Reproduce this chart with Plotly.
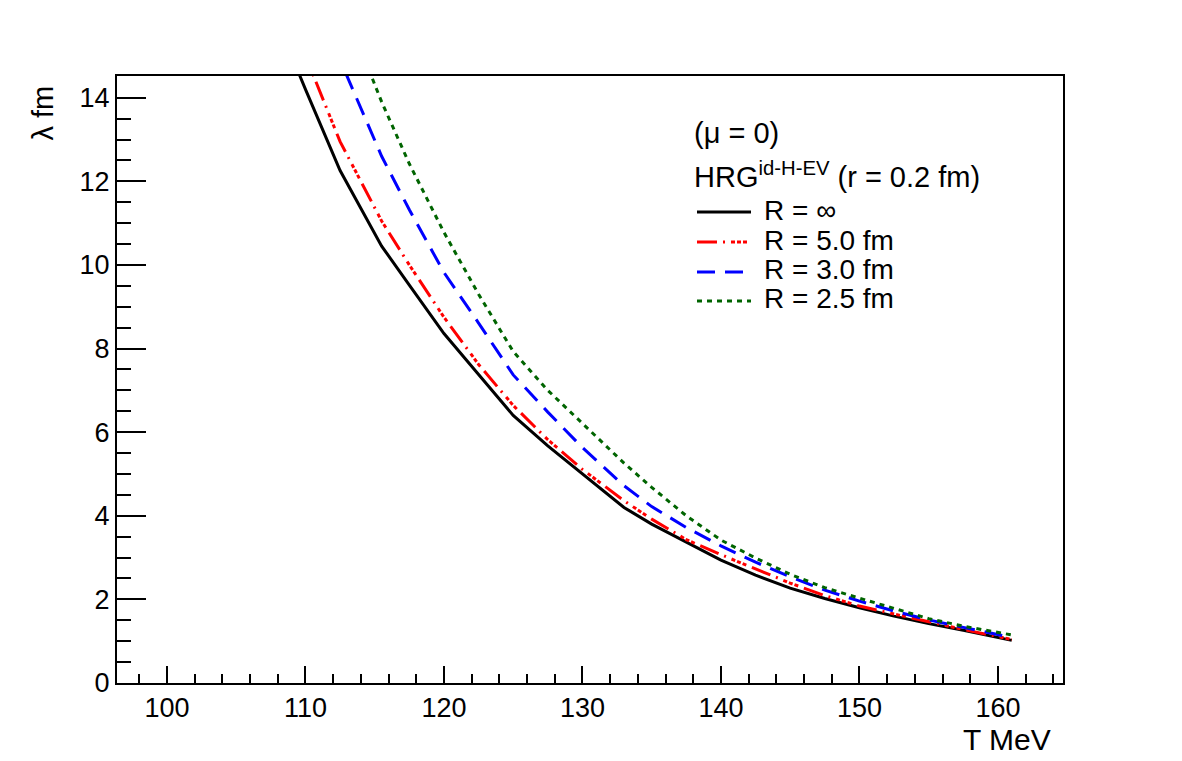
import plotly.graph_objects as go

# Temperature grid (MeV)
T = [108, 110, 112.5, 115.5, 117.5, 120, 122.5, 125, 127.5, 130, 133, 135, 137.5,
     140, 142.5, 145, 147.5, 150, 152.5, 155, 157.5, 161]

# lambda (fm) for each system size R
lam_inf = [15.8, 14.2, 12.26, 10.45, 9.52, 8.36, 7.38, 6.40, 5.67, 5.00, 4.20, 3.80, 3.36,
           2.94, 2.58, 2.27, 2.02, 1.80, 1.60, 1.42, 1.26, 1.02]
lam_R50 = [16.9, 15.0, 12.95, 11.05, 10.0, 8.75, 7.62, 6.64, 5.82, 5.11, 4.36, 3.92, 3.43,
           3.07, 2.73, 2.39, 2.09, 1.84, 1.65, 1.46, 1.28, 1.04]
lam_R30 = [19.0, 17.0, 14.9, 12.6, 11.32, 9.82, 8.61, 7.37, 6.48, 5.63, 4.72, 4.22, 3.72,
           3.28, 2.89, 2.54, 2.22, 1.96, 1.72, 1.51, 1.33, 1.09]
lam_R25 = [20.5, 18.6, 16.4, 13.9, 12.42, 10.78, 9.30, 7.93, 7.00, 6.20, 5.26, 4.68, 4.00,
           3.42, 2.99, 2.60, 2.28, 2.03, 1.78, 1.54, 1.36, 1.15]

names = ["R = ∞", "R = 5.0 fm", "R = 3.0 fm", "R = 2.5 fm"]
series = [lam_inf, lam_R50, lam_R30, lam_R25]
colors = ["black", "#ff0000", "#0000ff", "#006400"]
dashes = ["solid", "20px,6px,2px,6px,4px,2px,4px,2px,4px,6px", "18px,10px", "5px,5px"]

x_ticks = [100, 110, 120, 130, 140, 150, 160]
y_ticks = [0, 2, 4, 6, 8, 10, 12, 14]

FONT = "Liberation Sans, Arial, sans-serif"
L, R, TOP, B = 117, 119, 76, 78
W, H = 1182, 761
PW, PH = W - L - R, H - TOP - B


def px(x):
    return (x - L) / PW


def py(y):
    return 1 - (y - TOP) / PH


fig = go.Figure()
for name, ys, c, d in zip(names, series, colors, dashes):
    fig.add_trace(go.Scatter(x=T, y=ys, mode="lines", name=name, showlegend=False,
                             line=dict(color=c, width=3, dash=d)))

fig.update_layout(
    width=W, height=H,
    margin=dict(l=L, r=R, t=TOP, b=B),
    paper_bgcolor="white", plot_bgcolor="white",
    font=dict(family=FONT, color="black", size=26),
    showlegend=False,
)

fig.update_xaxes(
    range=[96.39, 164.7], tickvals=x_ticks, ticktext=[str(v) for v in x_ticks],
    ticks="inside", ticklen=17, tickwidth=2, tickcolor="black",
    minor=dict(dtick=2, tick0=0, ticks="inside", ticklen=9, tickwidth=2, tickcolor="black"),
    showline=True, linecolor="black", linewidth=2, mirror=True,
    showgrid=False, zeroline=False,
    tickfont=dict(family=FONT, size=27, color="black"),
)
fig.update_yaxes(
    range=[0, 14.52], tickvals=y_ticks, ticktext=[str(v) for v in y_ticks],
    ticks="inside", ticklen=29, tickwidth=2, tickcolor="black",
    minor=dict(dtick=0.5, tick0=0, ticks="inside", ticklen=14, tickwidth=2, tickcolor="black"),
    showline=True, linecolor="black", linewidth=2, mirror=True,
    showgrid=False, zeroline=False,
    tickfont=dict(family=FONT, size=27, color="black"),
)

# axis titles (ROOT style: at the end of the axes)
fig.add_annotation(text="T MeV", xref="paper", yref="paper", x=px(1053), y=py(758),
                   xanchor="right", yanchor="bottom", showarrow=False,
                   font=dict(family=FONT, size=30, color="black"))
fig.add_annotation(text="λ fm", xref="paper", yref="paper", x=px(42), y=py(84),
                   xanchor="center", yanchor="top", textangle=-90, showarrow=False,
                   font=dict(family=FONT, size=29, color="black"))

# legend header lines
fig.add_annotation(text="(μ = 0)", xref="paper", yref="paper", x=px(692), y=py(133),
                   xanchor="left", yanchor="middle", showarrow=False,
                   font=dict(family=FONT, size=29, color="black"))
fig.add_annotation(text="HRG<sup>id-H-EV</sup> (r = 0.2 fm)", xref="paper", yref="paper",
                   x=px(692), y=py(175),
                   xanchor="left", yanchor="middle", showarrow=False,
                   font=dict(family=FONT, size=29, color="black"))

# legend entries: sample line + label
text_y = [210, 240, 269, 298]
line_y = [212, 242, 272, 301]
for name, c, d, ty, ly in zip(names, colors, dashes, text_y, line_y):
    fig.add_shape(type="line", xref="paper", yref="paper",
                  x0=px(697), x1=px(751), y0=py(ly), y1=py(ly),
                  line=dict(color=c, width=3, dash=d))
    fig.add_annotation(text=name, xref="paper", yref="paper", x=px(762), y=py(ty),
                       xanchor="left", yanchor="middle", showarrow=False,
                       font=dict(family=FONT, size=28, color="black"))

fig.write_html("out.html")
